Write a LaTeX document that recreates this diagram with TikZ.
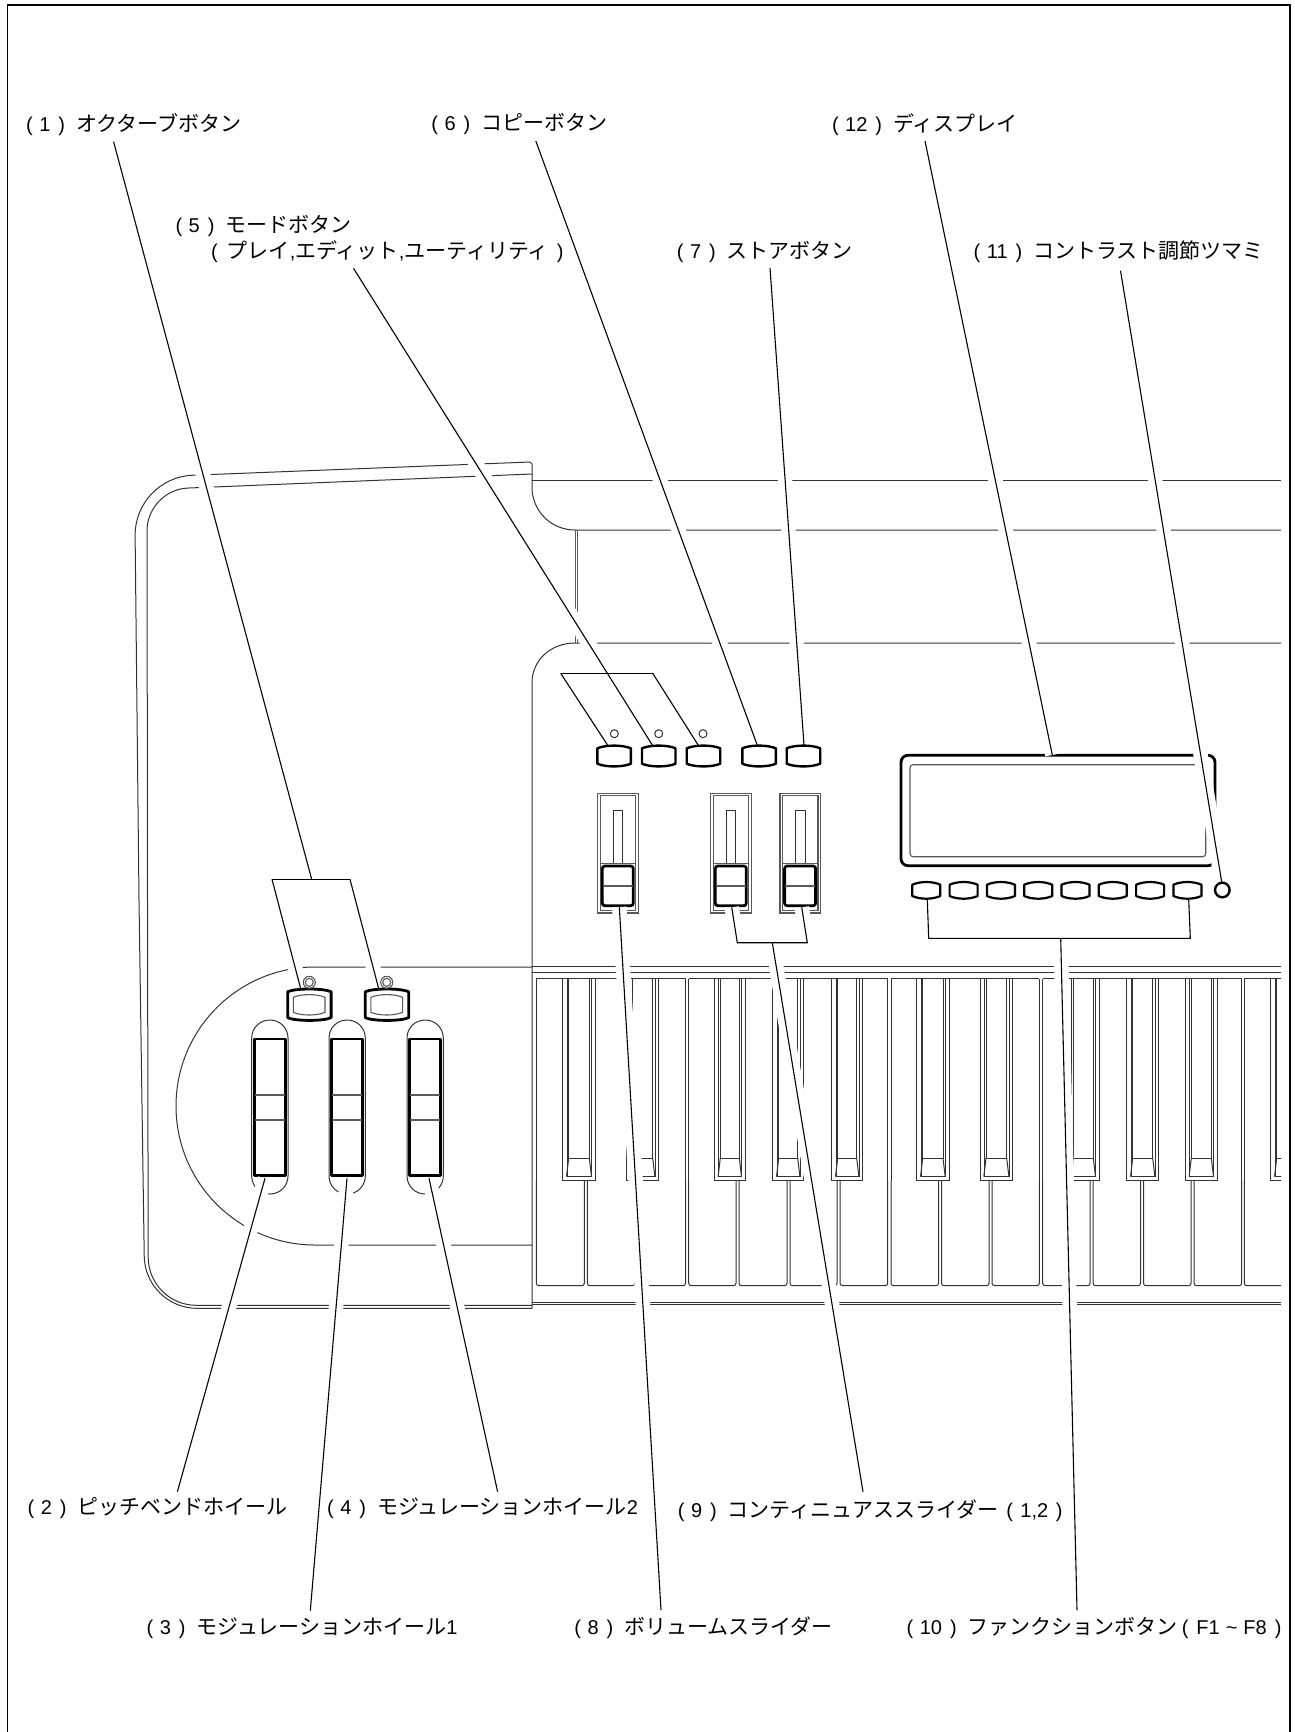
\documentclass[tikz,border=0pt]{standalone}
\usepackage{fontspec}
\setmainfont{Liberation Sans}
\newfontfamily\cjk[Scale=1.05]{Noto Sans CJK JP}
\usetikzlibrary{calc}
\newcommand{\itemno}[1]{(\hspace{6.5pt}#1\hspace{8pt})\hspace{11pt}}
\newcommand{\barrelpath}[4]{(#1,#2+3) .. controls (#1+8,#2-0.6) and (#3-8,#2-0.6) .. (#3,#2+3) -- (#3,#4-3) .. controls (#3-8,#4+0.6) and (#1+8,#4+0.6) .. (#1,#4-3) -- cycle}
% Every label lead, drawn twice: once as white gap, once as line
\newcommand{\leadpaths}[1]{
    \draw[#1] (113.6,141.7) -- (leadoct);
    \draw[#1] (272,879.3) -- (350,879.3);
    \draw[#1] (272,879.3) -- (300.7,988.7);
    \draw[#1] (350,879.3) -- (378.7,988.7);
    \draw[#1] (265,1178.3) -- (177.4,1491.7);
    \draw[#1] (347,1178.3) -- (310.3,1610.7);
    \draw[#1] (429,1178.3) -- (497.6,1491.7);
    \draw[#1] (353.5,268.3) -- (652.3,745);
    \draw[#1] (560.7,673.3) -- (652.7,673.3);
    \draw[#1] (560.7,673.3) -- (607.7,745.3);
    \draw[#1] (652.7,673.3) -- (698.3,745.3);
    \draw[#1] (535.8,141) -- (757.3,745.3);
    \draw[#1] (770,268) -- (804,745.3);
    \draw[#1] (619.3,907) -- (661,1610);
    \draw[#1] (731.7,907.3) -- (737.3,942.7) -- (807.3,942.7) -- (801.7,907.3);
    \draw[#1] (772.3,942.7) -- (863,1491.7);
    \draw[#1] (927.3,899.5) -- (928.7,938.3) -- (1190.3,938.3) -- (1188.7,899.5);
    \draw[#1] (1060.7,938.3) -- (1077,1610);
    \draw[#1] (1120.5,270.7) -- (1221.7,882);
    \draw[#1] (925,141) -- (1052.3,755);
}

\begin{document}
\begin{tikzpicture}[x=1pt,y=-1pt,
    bodyline/.style={black!80,line width=1pt},
    thinline/.style={black!65,line width=1.1pt},
    thickline/.style={black,line width=2.8pt,line join=round},
    leadgap/.style={white,line width=14.5pt},
    leadline/.style={black,line width=1.1pt,line join=miter},
    lbl/.style={anchor=base west,inner sep=0pt,font=\fontsize{20}{24}\selectfont},
    ]
    \useasboundingbox (0,0) rectangle (1294,1732);

    % Page frame
    \draw[black,line width=1.3pt] (7.5,1732) -- (7.5,5) -- (1290,5) -- (1290,1732);

    % Body, left end
    \draw[bodyline,rounded corners=52pt] (532,1308.3) -- (145,1308.3) -- (139,900);
    \draw[bodyline,rounded corners=58pt] (139,900) -- (134.5,477.5) -- (530,462);
    \draw[bodyline,rounded corners=48pt] (532,1305.3) -- (148.3,1305.3) -- (147.5,900);
    \draw[bodyline,rounded corners=41pt] (147.5,900) -- (147,489.7) -- (532,474);
    \draw[bodyline] (530,462) -- (532,464) -- (532,487) .. controls (532,511) and (551,530) .. (575,530) -- (1281,530);
    \draw[bodyline] (532,480) -- (1281,480);
    \draw[thinline] (575.5,530) -- (575.5,643);
    \draw[thinline] (577.5,530) -- (577.5,643);
    \draw[bodyline] (532,1308.3) -- (532,683) .. controls (532,660) and (551,643) .. (575,643) -- (1281,643);

    % Wheel recess
    \draw[bodyline] (532,967) -- (315,967) arc[start angle=270,end angle=90,radius=139] -- (532,1245);

    % Keyboard rails
    \draw[bodyline] (532,966.5) -- (1281,966.5);
    \draw[bodyline] (532,972.5) -- (1281,972.5);
    \draw[bodyline] (532,1302) -- (1281,1302);
    \draw[bodyline] (532,1304.4) -- (1281,1304.4);

    % Keys
    \begin{scope}
        \clip (532,960) rectangle (1281,1310);
        \foreach \l/\r in {536.3/584.3,587.3/635,638/685.5,688.7/736,739/787,790/837,840/887.7,891/938.5,941.5/989,992/1039.3,1042.7/1090,1093/1140.5,1143.5/1191,1194/1241.7,1244.3/1292}
            \draw[bodyline,rounded corners=2.5pt] (\l,1180.7) -- (\l,1285.7) -- (\r,1285.7) -- (\r,1180.7);
        \foreach \l/\r in {536.3/562.7,595.3/626,658.7/685.5,688.7/714.3,745.3/772.7,803.7/831.7,862.7/887.7,891/916.7,949/980,1012.7/1039.3,1042.7/1067.3,1099.3/1126.7,1158.7/1185.3,1217.3/1241.7,1244.3/1270.7}
            \draw[bodyline] (\l,978.7) -- (\r,978.7);
        \foreach \l in {536.3,685.5,688.7,887.7,891,1039.3,1042.7,1241.7,1244.3}
            \draw[bodyline] (\l,978.7) -- (\l,1181);
        \foreach \l/\r in {562.7/595.3,626/658.7,714.3/745.3,772.7/803.7,831.7/862.7,916.7/949,980/1012.7,1067.3/1099.3,1126.7/1158.7,1185.3/1217.3,1270.7/1302}{
            \draw[bodyline] (\l,1180.7) -- (\l,978.7) -- (\r,978.7) -- (\r,1180.7) -- cycle;
            \draw[bodyline] (\l+4.3,978.7) -- (\l+4.3,1176.7) -- (\r-3.7,1176.7) -- (\r-3.7,978.7);
            \draw[bodyline] (\l+6,978.7) -- (\l+6,1158) -- (\r-6,1158) -- (\r-6,978.7);
            \draw[bodyline] (\l+6,1158) -- (\l+3.8,1176.7);
            \draw[bodyline] (\r-6,1158) -- (\r-3.8,1176.7);
        }
    \end{scope}

    % Wheels
    \foreach \wx in {0,77.3,155.3}{
        \begin{scope}[xshift=\wx pt]
            \draw[bodyline] (251.7,1038) .. controls (251.7,1028) and (259.7,1020) .. (269.85,1020) .. controls (280,1020) and (288,1028) .. (288,1038) -- (288,1176) .. controls (288,1186) and (280,1194) .. (269.85,1194) .. controls (259.7,1194) and (251.7,1186) .. (251.7,1176) -- cycle;
            \draw[thickline] (254.5,1039) rectangle (285.5,1175.7);
            \draw[thinline] (255,1095) -- (285,1095);
            \draw[thinline] (255,1120) -- (285,1120);
        \end{scope}
    }

    % Sliders
    \foreach \sx in {0,113,182.3}{
        \begin{scope}[xshift=\sx pt]
            \draw[thinline] (597.7,793.3) rectangle (638.3,913);
            \draw[thinline] (600.3,795.7) rectangle (635.7,910.6);
            \draw[thinline] (600.3,863.2) -- (635.7,863.2);
            \draw[bodyline] (613.3,863) -- (613.3,810.3) -- (622.7,810.3) -- (622.7,863);
            \draw[thickline,rounded corners=2.5pt] (602.3,866) rectangle (633.3,905.7);
            \draw[thinline,line width=1.8pt] (603,886) -- (633,886);
        \end{scope}
    }

    % Display
    \draw[thickline,rounded corners=7pt] (901,755.3) rectangle (1215,865.7);
    \draw[thinline,rounded corners=3pt] (910,764.7) rectangle (1205.7,856.7);

    % Leads: gaps first, lines on top
    \coordinate (leadoct) at (311.7,879.3);
    \leadpaths{leadgap}
    \leadpaths{leadline}

    % Octave buttons and lamps
    \foreach \bx/\lx in {287.7/309.3,365.3/386.7}{
        \draw[thickline] \barrelpath{\bx}{988.7}{\bx+43.4}{1020.7};
        \draw[thinline] \barrelpath{\bx+5.6}{994.3}{\bx+37.3}{1015.3};
        \draw[thinline] (\lx,982.3) circle[radius=6];
        \draw[thinline] (\lx,982.3) circle[radius=4];
    }

    % Mode, copy and store buttons
    \foreach \bx in {597.3,642,686.7,742.3,786.7}
        \draw[black,line width=2.4pt,line join=round] \barrelpath{\bx}{745.3}{\bx+33.5}{766.7};
    \foreach \lx in {614.3,658.7,703}
        \draw[bodyline] (\lx,733.7) circle[radius=4];

    % Function buttons and contrast knob
    \foreach \i in {0,...,7}
        \draw[black,line width=2.2pt,line join=round] \barrelpath{912.3+37.3*\i}{881.7}{940.3+37.3*\i}{899};
    \draw[black,line width=2.4pt] (1222.3,890) circle[radius=7.3];

    % Labels
    \node[lbl] (lblone) at (25.9,131) {\itemno{1}{\cjk オクターブボタン}};
    \node[lbl] (lblsix) at (431.2,130.5) {\itemno{6}{\cjk コピーボタン}};
    \node[lbl] (lbltwelve) at (831.8,131) {\itemno{12}{\cjk ディスプレイ}};
    \node[lbl] (lblfive) at (175.3,232) {\itemno{5}{\cjk モードボタン}};
    \node[lbl] (lblfiveb) at (211,258.5) {(\hspace{9pt}{\cjk プレイ},{\cjk エディット},{\cjk ユーティリティ}\hspace{8pt})};
    \node[lbl] (lblseven) at (676.7,258.5) {\itemno{7}{\cjk ストアボタン}};
    \node[lbl] (lbleleven) at (973.5,258.5) {\itemno{11}{\cjk コントラスト調節ツマミ}};
    \node[lbl] (lbltwo) at (27.4,1514.5) {\itemno{2}{\cjk ピッチベンドホイール}};
    \node[lbl] (lblfour) at (327,1514.5) {\itemno{4}{\cjk モジュレーションホイール}2};
    \node[lbl] (lblnine) at (677.7,1517) {\itemno{9}{\cjk コンティニュアススライダー}\hspace{8pt}(\hspace{7.5pt}1,2\hspace{7.5pt})};
    \node[lbl] (lblthree) at (146.5,1634.5) {\itemno{3}{\cjk モジュレーションホイール}1};
    \node[lbl] (lbleight) at (574.2,1634.5) {\itemno{8}{\cjk ボリュームスライダー}};
    \node[lbl] (lblten) at (906.5,1634.5) {\itemno{10}{\cjk ファンクションボタン}\hspace{4pt}(\hspace{8pt}F1\hspace{6pt}\textasciitilde\hspace{6pt}F8\hspace{8pt})};
\end{tikzpicture}
\end{document}
